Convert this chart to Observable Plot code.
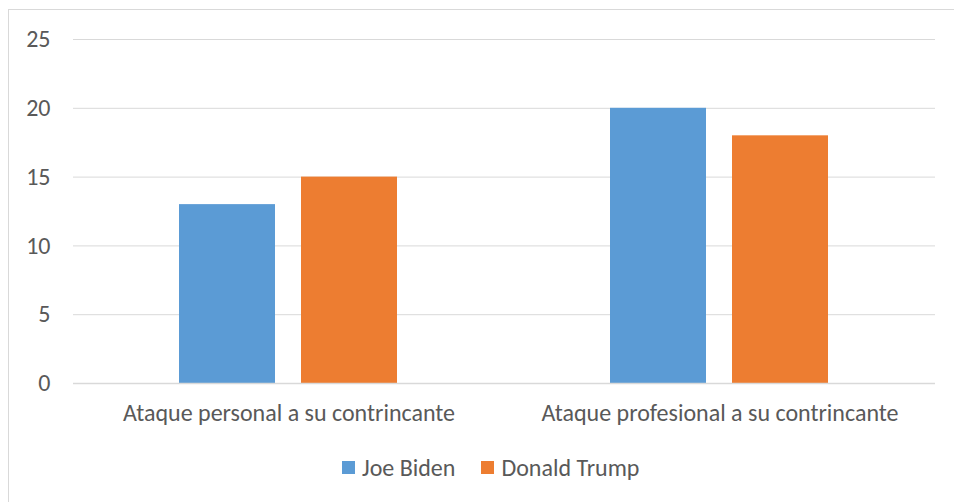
<!DOCTYPE html>
<html>
<head>
<meta charset="utf-8">
<script src="https://cdn.jsdelivr.net/npm/d3@7"></script>
<script src="https://cdn.jsdelivr.net/npm/@observablehq/plot@0.6"></script>
<style>
  html, body { margin: 0; padding: 0; background: #fff; }
  body { width: 954px; height: 502px; overflow: hidden; position: relative; font-family: Carlito, "Open Sans", sans-serif; color: #595959; }
  #frame { position: absolute; left: 8px; top: 9px; width: 960px; height: 510px; border: 1px solid #d9d9d9; box-sizing: border-box; pointer-events: none; }
  #chart svg { display: block; }
  #legend { display: flex; justify-content: flex-start; align-items: center; height: 54px; font-size: 24px; color: #595959; padding-left: 342px; }
  .item { display: flex; align-items: center; margin-right: 26px; }
  .sw { width: 13px; height: 13px; margin-right: 7px; }
</style>
</head>
<body>
<div id="frame"></div>
<div id="chart"></div>
<div id="legend"></div>
<script>
const categories = ["Ataque personal a su contrincante", "Ataque profesional a su contrincante"];
const series = ["Joe Biden", "Donald Trump"];
const bidenValues = [13, 20];
const trumpValues = [15, 18];
const yTicks = [0, 5, 10, 15, 20, 25];
const colors = ["#5B9BD5", "#ED7D31"];

const data = [];
categories.forEach((c, i) => {
  data.push({category: c, series: series[0], value: bidenValues[i]});
  data.push({category: c, series: series[1], value: trumpValues[i]});
});

const chart = Plot.plot({
  width: 954,
  height: 440,
  marginLeft: 72,
  marginRight: 19,
  marginTop: 39,
  marginBottom: 57,
  style: {fontFamily: 'Carlito, "Open Sans", sans-serif', fontSize: "24px", color: "#595959", background: "transparent"},
  fx: {domain: categories, padding: 0, label: null},
  x: {domain: series, paddingInner: 0.211, paddingOuter: 0.86, axis: null},
  y: {domain: [0, 25], label: null},
  color: {domain: series, range: colors},
  marks: [
    Plot.ruleY(yTicks.filter(d => d > 0), {stroke: "#d9d9d9", strokeWidth: 1}),
    Plot.barY(data, {fx: "category", x: "series", y: "value", fill: "series"}),
    Plot.ruleY([0], {stroke: "#d9d9d9", strokeWidth: 1.5}),
    Plot.axisY({ticks: yTicks, tickSize: 0, tickPadding: 23, fill: "#595959", fontSize: 24}),
    Plot.axisFx({anchor: "bottom", tickSize: 0, tickPadding: 20, fill: "#595959", fontSize: 24, label: null})
  ]
});
document.getElementById("chart").appendChild(chart);

const legend = document.getElementById("legend");
series.forEach((s, i) => {
  const item = document.createElement("div");
  item.className = "item";
  const sw = document.createElement("div");
  sw.className = "sw";
  sw.style.background = colors[i];
  const t = document.createElement("span");
  t.textContent = s;
  item.appendChild(sw);
  item.appendChild(t);
  legend.appendChild(item);
});
</script>
</body>
</html>
